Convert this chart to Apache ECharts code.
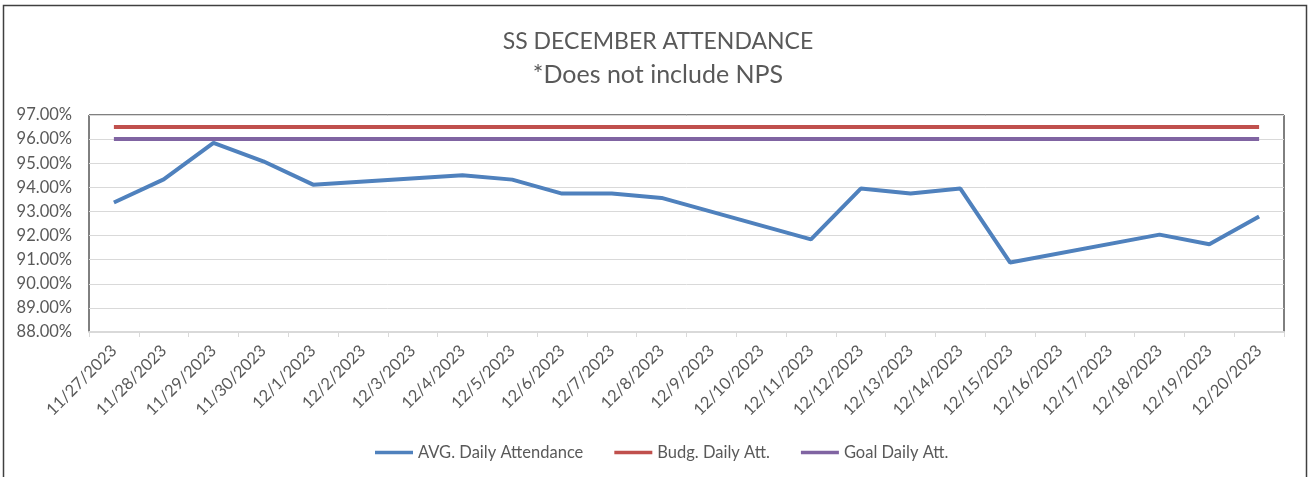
<!DOCTYPE html>
<html>
<head>
<meta charset="utf-8">
<title>SS December Attendance</title>
<script src="https://cdn.jsdelivr.net/npm/echarts@6/dist/echarts.min.js"></script>
<style>
  html, body { margin: 0; padding: 0; background: #fff; }
  #chart { width: 1316px; height: 477px; }
</style>
</head>
<body>
<div id="chart"></div>
<script>
// dates on the x axis (weekends have no value, line goes straight across)
var dates = ['11/27/2023', '11/28/2023', '11/29/2023', '11/30/2023', '12/1/2023', '12/2/2023',
  '12/3/2023', '12/4/2023', '12/5/2023', '12/6/2023', '12/7/2023', '12/8/2023', '12/9/2023',
  '12/10/2023', '12/11/2023', '12/12/2023', '12/13/2023', '12/14/2023', '12/15/2023',
  '12/16/2023', '12/17/2023', '12/18/2023', '12/19/2023', '12/20/2023'];

// percent values
var avgDaily = [93.37, 94.33, 95.84, 95.08, 94.11, null,
  null, 94.50, 94.32, 93.74, 93.74, 93.56, null,
  null, 91.84, 93.95, 93.74, 93.95, 90.88,
  null, null, 92.04, 91.64, 92.79];
var budgDaily = [96.5, 96.5, 96.5, 96.5, 96.5, 96.5, 96.5, 96.5, 96.5, 96.5, 96.5, 96.5,
  96.5, 96.5, 96.5, 96.5, 96.5, 96.5, 96.5, 96.5, 96.5, 96.5, 96.5, 96.5];
var goalDaily = [96, 96, 96, 96, 96, 96, 96, 96, 96, 96, 96, 96,
  96, 96, 96, 96, 96, 96, 96, 96, 96, 96, 96, 96];

var seriesNames = ['AVG. Daily Attendance', 'Budg. Daily Att.', 'Goal Daily Att.'];

var chart = echarts.init(document.getElementById('chart'));
var font = 'Lato, "Open Sans", sans-serif';
var gray = '#595959';

var option = {
  animation: false,
  textStyle: { fontFamily: font },
  title: [{
    text: 'SS DECEMBER ATTENDANCE',
    left: 'center',
    top: 25,
    textStyle: { fontSize: 23, fontWeight: 'normal', color: gray, fontFamily: font }
  }, {
    text: '*Does not include NPS',
    left: 'center',
    top: 57,
    textStyle: { fontSize: 25, fontWeight: 'normal', color: gray, fontFamily: font }
  }],
  graphic: [{
    type: 'rect',
    silent: true,
    shape: { x: 3.5, y: 5.5, width: 1303, height: 480 },
    style: { fill: 'none', stroke: '#404040', lineWidth: 1.5 }
  }],
  legend: {
    left: 370,
    top: 439,
    icon: 'rect',
    itemWidth: 38,
    itemHeight: 3.5,
    itemGap: 31,
    textStyle: { fontSize: 16.5, color: gray, fontFamily: font },
    data: seriesNames
  },
  grid: {
    left: 89, right: 32, top: 115, bottom: 145,
    show: true,
    borderColor: '#000',
    borderWidth: 1
  },
  xAxis: {
    type: 'category',
    data: dates,
    boundaryGap: true,
    axisLine: { lineStyle: { color: '#d9d9d9', width: 2 } },
    axisTick: { show: true, length: 5, lineStyle: { color: '#d9d9d9' } },
    axisLabel: {
      rotate: 45,
      interval: 0,
      margin: 16,
      fontSize: 16.5,
      color: gray,
      fontFamily: font
    }
  },
  yAxis: {
    type: 'value',
    min: 88,
    max: 97,
    interval: 1,
    axisLine: { show: false },
    axisTick: { show: false },
    splitLine: { lineStyle: { color: '#d9d9d9', width: 1 } },
    axisLabel: {
      fontSize: 16.5,
      color: gray,
      margin: 17,
      fontFamily: font,
      formatter: function (v) { return v.toFixed(2) + '%'; }
    }
  },
  series: [{
    name: seriesNames[0],
    type: 'line',
    data: avgDaily,
    connectNulls: true,
    showSymbol: false,
    symbol: 'none',
    lineStyle: { color: '#4F81BD', width: 4 },
    itemStyle: { color: '#4F81BD' },
    z: 4
  }, {
    name: seriesNames[1],
    type: 'line',
    data: budgDaily,
    showSymbol: false,
    symbol: 'none',
    lineStyle: { color: '#C0504D', width: 4 },
    itemStyle: { color: '#C0504D' },
    z: 3
  }, {
    name: seriesNames[2],
    type: 'line',
    data: goalDaily,
    showSymbol: false,
    symbol: 'none',
    lineStyle: { color: '#8064A2', width: 4 },
    itemStyle: { color: '#8064A2' },
    z: 3
  }]
};

chart.setOption(option);
window.addEventListener('resize', function () { chart.resize(); });
</script>
</body>
</html>
